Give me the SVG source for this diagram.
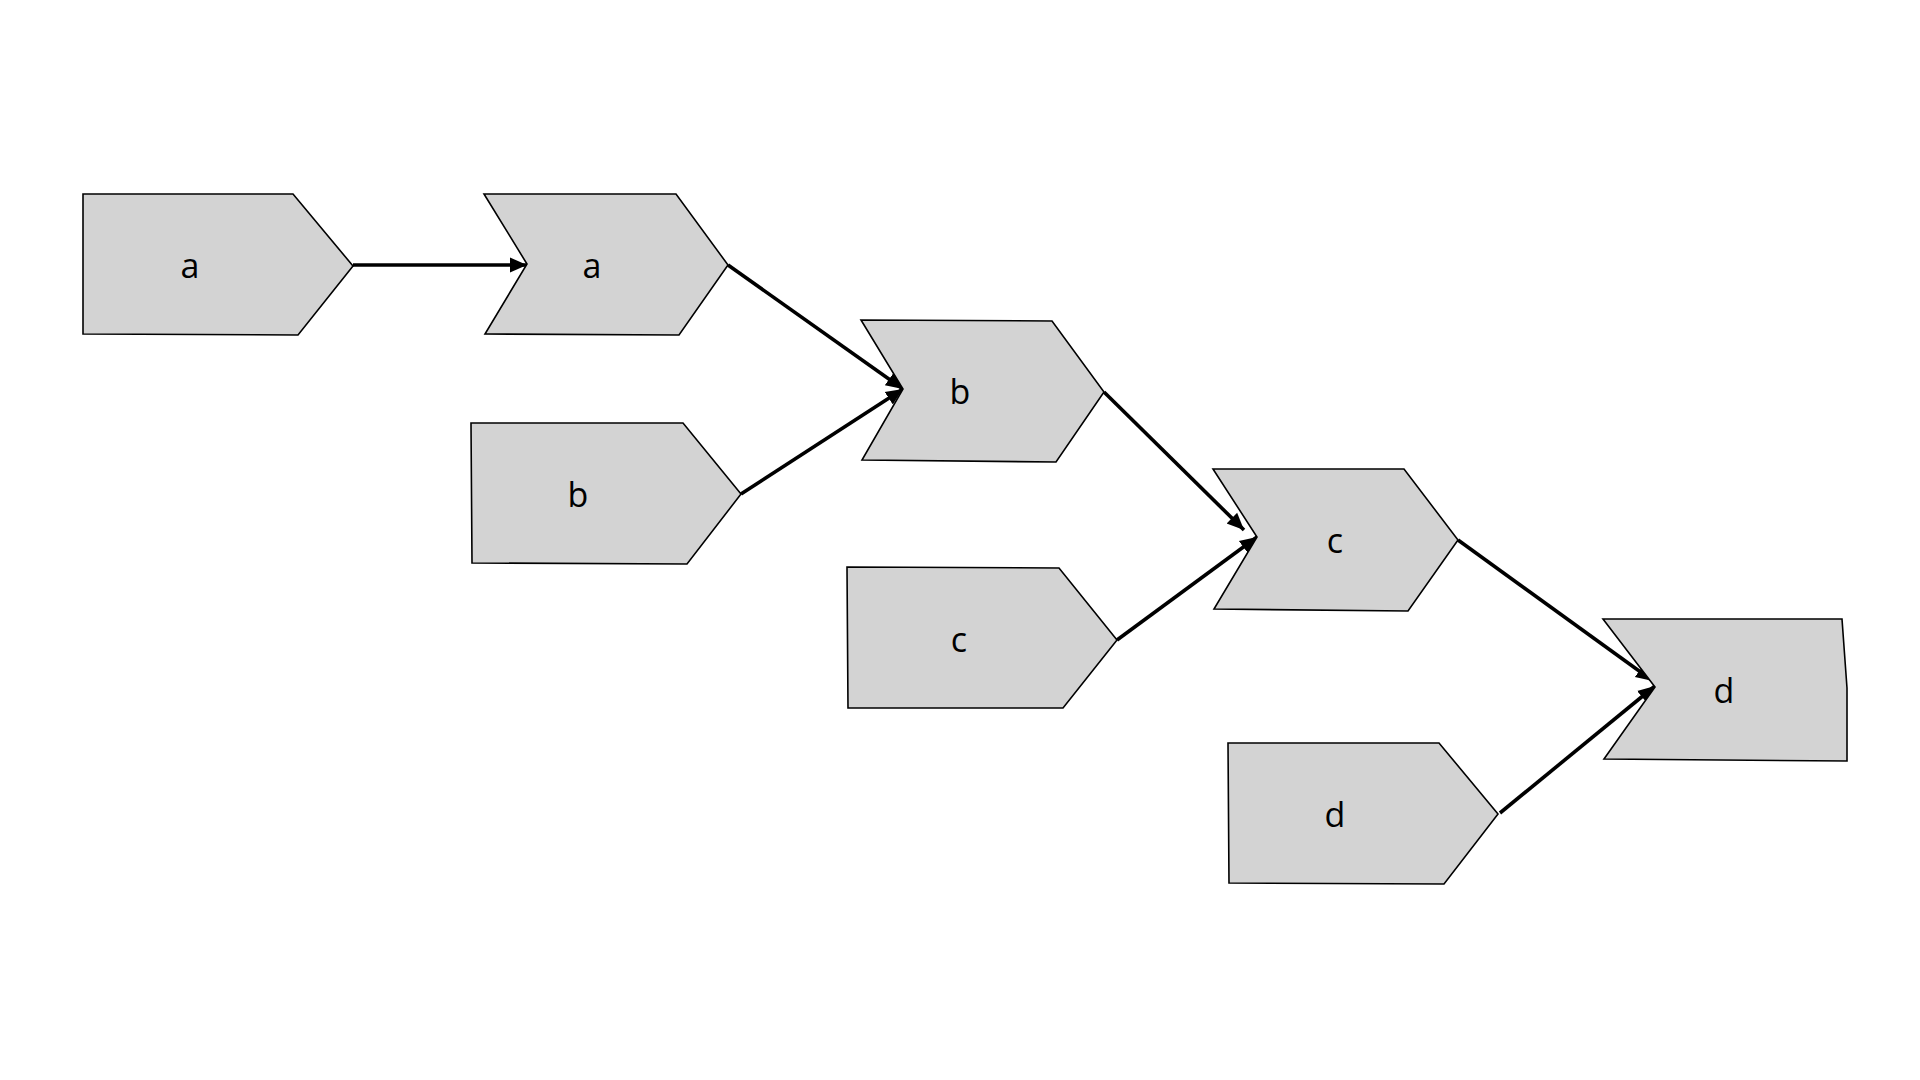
<svg xmlns="http://www.w3.org/2000/svg" width="1920" height="1080" viewBox="0 0 1920 1080">
<defs>
<marker id="arr" markerUnits="userSpaceOnUse" markerWidth="20" markerHeight="18" viewBox="0 0 20 18" refX="17" refY="9" orient="auto">
<path d="M0,1.5 L17,9 L0,16.5 Z" fill="#000"/>
</marker>
</defs>
<style>
.n{fill:#d3d3d3;stroke:#000;stroke-width:1.6;stroke-linejoin:miter}
.t{font-family:"Open Sans","Noto Sans","DejaVu Sans",sans-serif;font-size:34px;fill:#000;text-anchor:middle}
.c{fill:none;stroke:#000;stroke-width:3.6;marker-end:url(#arr)}
</style>
<rect width="1920" height="1080" fill="#fff"/>
<g id="connectors">
<line class="c" x1="353" y1="265" x2="527" y2="265"/>
<line class="c" x1="728" y1="265" x2="903" y2="389"/>
<line class="c" x1="741" y1="494" x2="903" y2="389"/>
<line class="c" x1="1104" y1="392" x2="1244" y2="530"/>
<line class="c" x1="1117" y1="640" x2="1257" y2="537"/>
<line class="c" x1="1458" y1="540" x2="1653" y2="681"/>
<line class="c" x1="1500" y1="813" x2="1655" y2="686"/>
</g>
<g id="node-a1"><polygon class="n" points="83,194 293,194 353,266 298,335 83,334"/><text class="t" x="190" y="278">a</text></g>
<g id="node-a2"><polygon class="n" points="484,194 676,194 728,265 679,335 485,334 527,264"/><text class="t" x="592" y="278">a</text></g>
<g id="node-b1"><polygon class="n" points="471,423 683,423 741,494 687,564 472,563"/><text class="t" x="578" y="507">b</text></g>
<g id="node-b2"><polygon class="n" points="861,320 1052,321 1104,392 1056,462 862,460 903,389"/><text class="t" x="960" y="404">b</text></g>
<g id="node-c1"><polygon class="n" points="847,567 1059,568 1117,640 1063,708 848,708"/><text class="t" x="959" y="652">c</text></g>
<g id="node-c2"><polygon class="n" points="1213,469 1404,469 1458,540 1408,611 1214,609 1257,537"/><text class="t" x="1335" y="553">c</text></g>
<g id="node-d1"><polygon class="n" points="1228,743 1439,743 1498,814 1444,884 1229,883"/><text class="t" x="1335" y="827">d</text></g>
<g id="node-d2"><polygon class="n" points="1603,619 1842,619 1847,688 1847,761 1604,759 1655,687"/><text class="t" x="1724" y="703">d</text></g>
</svg>
